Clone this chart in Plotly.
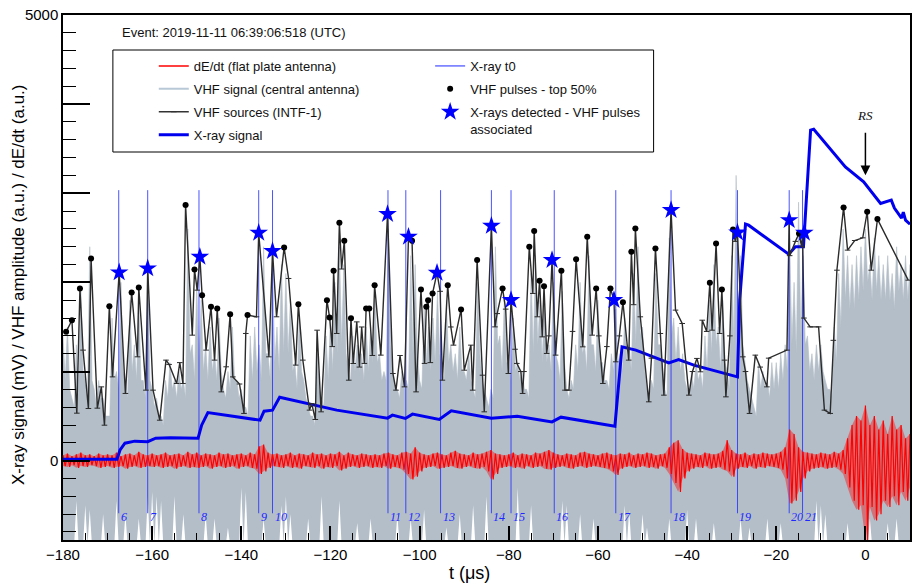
import plotly.graph_objects as go

# ---------------- data ----------------
# time grid (µs) for sampled envelopes
sig_t = list(range(-180, 11))

# VHF signal (central antenna): spike tops (at t), dense level (at t+0.5), low gaps (at t)
vhf_sig_hi = [
    1400, 1500, 700, 1300, 1900, 900, 2400, 800, 900, 700,
    500, 1600, 1000, 2000, 900, 1800, 1300, 1800, 900, 2100,
    800, 700, 500, 900, 1100, 900, 1000, 900, 2600, 1300,
    2000, 1800, 1300, 1500, 1200, 1600, 800, 1000, 1500, 900,
    800, 600, 1400, 1500, 1300, 2400, 1200, 2200, 1500, 2200,
    2100, 1800, 1100, 1600, 900, 600, 500, 1200, 700, 1400,
    1600, 2000, 2400, 2200, 1000, 1400, 1300, 1200, 1500, 1500,
    1800, 1200, 1000, 2600, 1000, 800, 1000, 900, 2300, 2200,
    900, 1700, 1500, 1600, 1900, 1000, 1800, 1300, 1200, 1500,
    1000, 1200, 800, 2000, 900, 700, 800, 2400, 1400, 1800,
    1100, 1600, 1100, 1000, 800, 2100, 2300, 1800, 1800, 1300,
    2000, 1100, 1900, 800, 900, 1300, 2000, 1300, 2300, 1300,
    1800, 1100, 900, 1200, 1700, 1200, 1600, 1300, 2100, 2400,
    1500, 800, 900, 2100, 1300, 800, 2500, 1600, 1500, 1200,
    800, 1000, 1100, 1000, 1400, 1800, 2200, 1500, 1800, 1000,
    2300, 3200, 2300, 1100, 800, 600, 1100, 1000, 900, 1100,
    1100, 1200, 1300, 2500, 2000, 2900, 2300, 1400, 1200, 1300,
    1300, 900, 800, 1500, 2100, 2600, 2300, 2200, 2300, 2400,
    2600, 2200, 2500, 2300, 2200, 2300, 2100, 2400, 2200, 2300, 2200,
]
vhf_sig_mid = [
    900, 800, 600, 700, 1000, 700, 900, 600, 700, 500,
    500, 900, 800, 1000, 700, 1000, 900, 900, 700, 900,
    600, 500, 400, 700, 800, 700, 800, 700, 1200, 900,
    1100, 1000, 900, 1000, 900, 1000, 700, 800, 900, 700,
    600, 500, 900, 1000, 900, 1200, 900, 1100, 1000, 1200,
    1200, 1000, 800, 1000, 700, 500, 400, 800, 600, 900,
    1000, 1200, 1300, 1200, 900, 1000, 1000, 900, 1000, 1100,
    1100, 900, 900, 1300, 800, 700, 800, 800, 1200, 1200,
    800, 1100, 1000, 1100, 1200, 900, 1100, 1000, 900, 1000,
    900, 900, 700, 1200, 800, 600, 700, 1300, 1000, 1100,
    900, 1000, 900, 800, 700, 1200, 1300, 1100, 1100, 1000,
    1200, 900, 1100, 700, 800, 1000, 1200, 1000, 1300, 1000,
    1100, 900, 800, 1000, 1100, 1000, 1100, 1000, 1300, 1400,
    1000, 700, 800, 1300, 1000, 700, 1400, 1100, 1000, 900,
    700, 800, 900, 800, 1000, 1200, 1300, 1000, 1100, 800,
    1300, 1500, 1300, 900, 700, 500, 800, 800, 700, 800,
    800, 900, 1000, 1300, 1200, 1400, 1300, 1000, 900, 1000,
    1000, 800, 700, 1100, 1500, 1800, 1700, 1700, 1800, 1900,
    2000, 1800, 1900, 1800, 1800, 1800, 1700, 1900, 1800, 1800, 1800,
]
vhf_sig_lo = [
    -950, -950, -950, -450, -950, -500, -550, -950, -950, -600,
    -950, -950, -450, -950, -600, -950, -950, -650, -950, -400,
    -350, -400, -450, -950, -950, -400, -950, -600, -950, -950,
    -950, -950, -600, -950, -650, -950, -950, -750, -950, -950,
    -300, -350, -950, -950, -950, -650, -950, -950, -950, -500,
    -400, -600, -950, -950, -950, -650, -950, -950, -400, -950,
    -950, -950, -450, -950, -950, -950, -700, -950, -950, -650,
    -950, -950, -950, -950, -950, -600, -950, -950, -650, -950,
    -950, -550, -950, -950, -950, -950, -750, -950, -950, -600,
    -950, -950, -500, -950, -950, -400, -950, -950, -950, -950,
    -950, -950, -300, -950, -950, -500, -950, -950, -950, -950,
    -950, -950, -450, -500, -950, -950, -600, -950, -950, -650,
    -950, -950, -950, -950, -950, -950, -500, -550, -950, -950,
    -600, -750, -950, -950, -950, -950, -650, -950, -950, -950,
    -550, -950, -650, -950, -950, -950, -700, -950, -950, -950,
    -950, -950, -650, -950, -750, -950, -950, -950, -650, -950,
    -950, -700, -950, -950, -950, -950, -950, -950, -950, -450,
    -500, -600, -950, -950, -950, -950, -700, -950, -950, -950,
    -950, -650, -950, -950, -950, -700, -950, -650, -950, -950, -950,
]

# dE/dt (flat plate antenna) upper / lower envelope
dedt_hi = [
    60, 80, 50, 70, 90, 60, 70, 50, 80, 60,
    70, 60, 90, 50, 70, 80, 60, 100, 70, 60,
    80, 60, 70, 90, 60, 70, 80, 60, 100, 70,
    90, 60, 80, 70, 60, 90, 70, 80, 60, 70,
    80, 60, 90, 70, 160, 180, 90, 70, 80, 60,
    70, 90, 60, 80, 70, 60, 90, 70, 80, 60,
    80, 70, 100, 60, 90, 70, 60, 80, 70, 60,
    70, 60, 80, 90, 70, 60, 90, 100, 80, 150,
    90, 70, 60, 80, 90, 70, 60, 90, 110, 80,
    70, 60, 90, 70, 80, 100, 120, 80, 70, 60,
    70, 90, 60, 80, 70, 60, 90, 80, 100, 120,
    90, 70, 60, 80, 70, 60, 90, 100, 80, 70,
    60, 80, 90, 70, 60, 80, 70, 90, 60, 80,
    70, 90, 80, 60, 70, 80, 150, 200, 230, 130,
    90, 80, 70, 60, 90, 80, 70, 80, 110, 230,
    120, 80, 70, 90, 60, 80, 70, 90, 80, 70,
    80, 100, 150, 350, 300, 150, 100, 90, 80, 70,
    90, 80, 70, 100, 80, 120, 250, 400, 500, 450,
    620, 400, 500, 350, 450, 300, 500, 350, 400, 250, 300,
]
dedt_lo = [
    -60, -70, -50, -80, -60, -70, -50, -60, -80, -70,
    -60, -80, -70, -60, -90, -70, -60, -80, -70, -60,
    -70, -60, -80, -70, -60, -90, -70, -60, -80, -70,
    -80, -70, -60, -90, -70, -60, -80, -70, -60, -90,
    -70, -60, -80, -90, -150, -120, -80, -60, -70, -80,
    -60, -80, -70, -90, -60, -70, -80, -60, -90, -70,
    -80, -60, -110, -90, -70, -60, -80, -70, -60, -80,
    -70, -80, -60, -90, -70, -80, -100, -150, -210, -180,
    -120, -80, -70, -60, -90, -80, -70, -60, -80, -90,
    -70, -60, -80, -90, -70, -120, -210, -150, -80, -70,
    -60, -80, -70, -90, -60, -80, -70, -60, -90, -100,
    -80, -70, -60, -80, -90, -70, -60, -80, -70, -60,
    -70, -80, -90, -120, -160, -90, -70, -60, -80, -70,
    -60, -80, -70, -90, -60, -80, -150, -250, -350, -200,
    -120, -90, -70, -80, -60, -90, -80, -70, -100, -120,
    -180, -90, -70, -80, -60, -90, -70, -80, -60, -70,
    -80, -100, -200, -480, -450, -350, -200, -120, -90, -80,
    -70, -90, -80, -70, -100, -150, -300, -450, -550, -500,
    -890, -520, -670, -600, -450, -520, -400, -500, -350, -450, -300,
]

# VHF sources (INTF-1)
src_t = [-179.3, -178.0, -176.9, -176.2, -175.5, -174.3, -173.7, -172.3, -171.4, -170.7,
         -169.6, -168.9, -167.4, -166.0, -164.6, -163.3, -163.0, -161.4, -161.0, -159.8,
         -158.3, -156.9, -156.2, -154.5, -153.8, -153.1, -152.5, -151.0, -150.5, -149.9,
         -149.3, -148.8, -147.9, -146.8, -146.0, -145.4, -144.5, -143.4, -142.5, -141.9,
         -140.4, -139.4, -139.0, -138.6, -136.6, -136.1, -133.8, -133.0, -132.1, -130.4,
         -129.4, -127.8, -127.2, -126.2, -124.7, -124.2, -123.4, -123.0, -122.1, -120.8,
         -120.2, -119.6, -119.3, -118.6, -118.0, -117.5, -116.9, -115.9, -115.4, -114.9,
         -114.1, -113.5, -113.0, -112.4, -112.0, -111.3, -110.6, -110.1, -108.7, -107.2,
         -106.0, -105.3, -104.4, -103.4, -102.5, -101.7, -100.8, -99.7, -98.9, -98.5,
         -98.1, -97.6, -97.1, -96.1, -95.4, -94.9, -93.7, -93.0, -92.4, -90.7,
         -90.0, -88.5, -88.1, -87.1, -85.9, -85.5, -83.9, -83.1, -82.6, -81.4,
         -80.7, -80.1, -79.5, -78.6, -78.2, -77.3, -76.9, -76.6, -75.4, -74.6,
         -74.3, -73.6, -73.1, -72.5, -72.1, -71.5, -71.0, -70.3, -69.5, -68.2,
         -67.4, -66.5, -65.7, -64.9, -63.4, -62.4, -61.3, -60.4, -59.8, -58.9,
         -58.0, -57.2, -56.4, -56.0, -55.2, -54.4, -53.1, -52.5, -52.0, -51.6,
         -50.5, -48.6, -48.0, -47.1, -46.0, -45.2, -43.6, -42.6, -41.1, -39.6,
         -38.8, -37.8, -37.0, -36.6, -35.6, -34.9, -34.4, -33.5, -32.7, -32.2,
         -31.6, -31.3, -30.4, -29.7, -29.2, -28.7, -27.5, -26.9, -26.0, -24.7,
         -23.6, -22.1, -21.7, -17.6, -17.1, -17.0, -15.7, -14.9, -14.3, -14.1,
         -13.8, -12.4, -10.5, -9.2, -7.9, -7.2, -6.4, -4.9, -4.0, -2.4,
         -0.6, 0.4, 1.3, 2.7, 9.6]
src_v = [1445, 1576, 533, 1932, 1240, 585, 2268, 589, 828, 398,
         1733, 940, 2112, 754, 1887, 1165, 1943, 791, 2157, 791,
         454, 1128, 1080, 866, 1100, 866, 2867, 1408, 2145, 1913,
         2287, 1857, 1240, 1726, 1128, 1707, 772, 1053, 1644, 940,
         860, 530, 1427, 1633, 1614, 2556, 1165, 2351, 1614, 2392,
         2044, 1072, 1756, 1128, 567, 640, 462, 1464, 548, 1801,
         1607, 1280, 2130, 1427, 2669, 2150, 2466, 903, 1599, 1090,
         1557, 1050, 1500, 1091, 1707, 1707, 1180, 1969, 1184, 2766,
         978, 791, 1180, 828, 2511, 2466, 772, 1921, 1091, 1726,
         1801, 1100, 1876, 2107, 1900, 903, 1969, 1500, 1296, 1697,
         1015, 1296, 791, 2250, 959, 548, 2634, 1501, 1650, 1932,
         1700, 978, 1801, 1250, 1091, 1000, 754, 1000, 2399, 1876,
         2578, 1614, 2018, 1389, 1958, 1203, 1400, 2250, 1184, 2130,
         791, 791, 1450, 2261, 1277, 2511, 1408, 1932, 1400, 866,
         1280, 1932, 1801, 1109, 1400, 1778, 1128, 2343, 1750, 2605,
         1614, 660, 1150, 2381, 1427, 735, 2811, 1689, 1539, 735,
         1000, 1147, 997, 1576, 1450, 1995, 1464, 2437, 1427, 1921,
         1128, 716, 1400, 2594, 2460, 2560, 1165, 1000, 530, 1184,
         1050, 828, 1150, 1240, 2698, 2300, 2460, 2549, 2400, 2556,
         1600, 1501, 1501, 567, 530, 1350, 2137, 2841, 2362, 2470,
         2500, 2792, 2137, 2710, 2025]

# VHF pulses - top 50%
top_t = [-179.3, -178.0, -176.2, -173.7, -169.6, -164.6, -163.0, -152.5, -150.5, -148.8,
         -146.8, -145.4, -142.5, -138.6, -130.4, -127.2, -120.8, -120.2, -119.3, -118.0,
         -116.9, -115.4, -112.0, -111.3, -110.1, -101.7, -99.7, -98.5, -98.1, -97.1,
         -93.7, -90.7, -87.1, -81.4, -75.4, -74.3, -73.1, -72.1, -68.2, -64.9,
         -62.4, -60.4, -57.2, -54.4, -52.5, -51.6, -47.1, -34.9, -33.5, -32.2,
         -29.7, -14.9, -4.9, 0.4, 2.7]
top_v = [1445, 1576, 1932, 2268, 1733, 1887, 1943, 2867, 2145, 1857,
         1726, 1707, 1644, 1633, 2392, 1756, 1801, 1607, 2130, 2669,
         2466, 1599, 1707, 1707, 1969, 2466, 1921, 1726, 1801, 1876,
         1969, 1697, 2250, 1932, 2399, 2578, 2018, 1958, 2130, 2261,
         2511, 1932, 1932, 1778, 2343, 2605, 2381, 1995, 2437, 1921,
         2594, 2549, 2841, 2792, 2710]

# X-rays detected - VHF pulses associated
star_t = [-167.4, -161.0, -149.3, -136.1, -133.0, -107.2, -102.5, -96.1,
          -83.9, -79.5, -70.3, -56.4, -43.6, -28.7, -17.1, -13.7]
star_v = [2112, 2157, 2287, 2556, 2351, 2766, 2511, 2107,
          2634, 1801, 2250, 1801, 2811, 2560, 2698, 2556]

# X-ray t0 markers
t0_t = [-167.5, -161.0, -149.5, -136.1, -133.0, -107.1, -103.1, -95.3,
        -83.9, -79.5, -69.8, -56.0, -43.6, -28.7, -17.1, -14.1]
t0_lbl = ["6", "7", "8", "9", "10", "11", "12", "13",
          "14", "15", "16", "17", "18", "19", "20", "21"]

# X-ray signal
xray_t = [-180, -167.9, -167.2, -166.1, -163.9, -161.0, -159.2, -155.9, -149.7, -148.9,
          -147.5, -142.3, -135.8, -134.9, -133.0, -131.4, -118.6, -107.2, -106.1, -103.2,
          -101.6, -95.6, -92.9, -83.9, -78.1, -70.3, -68.3, -56.2, -55.7, -54.6,
          -51.5, -44.1, -41.9, -38.5, -28.7, -28.2, -26.9, -26.2, -17.2, -15.7,
          -13.9, -13.0, -12.3, -11.6, -4.5, -0.4, 3.4, 5.8, 6.5, 8.1,
          8.5, 9.0, 10.0]
xray_v = [17, 17, 120, 196, 219, 213, 252, 258, 252, 398,
          539, 499, 454, 555, 567, 712, 567, 477, 511, 474,
          522, 462, 559, 477, 499, 435, 488, 387, 679, 1277,
          1240, 1097, 1135, 1072, 940, 1801, 2654, 2642, 2317, 2399,
          2399, 3147, 3708, 3719, 3296, 3128, 2886, 2923, 2833, 2721,
          2788, 2698, 2653]

# ---------------- styling constants ----------------
T0_TOP, T0_BOTTOM, T0_LABEL_Y = 3035, -590, -630
SIG_FLOOR = -950
GREY = "#b3bec8"
FONT = "Liberation Sans, Arial, sans-serif"
SERIF = "Liberation Serif, Times New Roman, serif"

fig = go.Figure()

# VHF signal: lower boundary (gaps) and upper boundary (spikes + dense level)
lx, ly, ux, uy = [], [], [], []
for t, lo, hi, mid in zip(sig_t, vhf_sig_lo, vhf_sig_hi, vhf_sig_mid):
    lx += [t, t + 0.5]
    ly += [lo, SIG_FLOOR]
    ux += [t, t + 0.5]
    uy += [hi, mid]
fig.add_trace(go.Scatter(x=lx, y=ly, mode="lines", line=dict(width=0, color=GREY),
                         showlegend=False, hoverinfo="skip"))
fig.add_trace(go.Scatter(x=ux, y=uy, mode="lines", line=dict(width=0.6, color=GREY),
                         fill="tonexty", fillcolor=GREY, showlegend=False, hoverinfo="skip"))

# X-ray t0 vertical lines
vx, vy = [], []
for t in t0_t:
    vx += [t, t, None]
    vy += [T0_BOTTOM, T0_TOP, None]
fig.add_trace(go.Scatter(x=vx, y=vy, mode="lines", line=dict(color="rgba(30,40,255,0.8)", width=1),
                         showlegend=False, hoverinfo="skip"))

# dE/dt: band between envelopes plus zig-zag trace
fig.add_trace(go.Scatter(x=sig_t, y=dedt_lo, mode="lines", line=dict(width=0, color="red"),
                         showlegend=False, hoverinfo="skip"))
fig.add_trace(go.Scatter(x=sig_t, y=dedt_hi, mode="lines", line=dict(width=0, color="red"),
                         fill="tonexty", fillcolor="rgba(255,0,0,0.4)",
                         showlegend=False, hoverinfo="skip"))
rx, ry = [], []
for t, hi, lo in zip(sig_t, dedt_hi, dedt_lo):
    rx += [t, t + 0.5]
    ry += [hi, lo]
fig.add_trace(go.Scatter(x=rx, y=ry, mode="lines", line=dict(color="#ff0000", width=1.2),
                         showlegend=False, hoverinfo="skip"))

# X-ray signal
fig.add_trace(go.Scatter(x=xray_t, y=xray_v, mode="lines", line=dict(color="#0000ee", width=3),
                         showlegend=False))

# VHF sources
fig.add_trace(go.Scatter(x=src_t, y=src_v, mode="lines+markers",
                         line=dict(color="#2b2b2b", width=1.4),
                         marker=dict(symbol="line-ew", size=4, line=dict(width=1, color="#2b2b2b")),
                         showlegend=False))
# top 50%
fig.add_trace(go.Scatter(x=top_t, y=top_v, mode="markers",
                         marker=dict(color="black", size=6), showlegend=False))
# stars
fig.add_trace(go.Scatter(x=star_t, y=star_v, mode="markers",
                         marker=dict(symbol="star", color="#0000ff", size=14, line=dict(width=0)),
                         showlegend=False))

# legend-only entries
leg1 = [
    dict(name="dE/dt (flat plate antenna)", mode="lines", line=dict(color="red", width=1.5)),
    dict(name="VHF signal (central antenna)", mode="lines", line=dict(color="#b8c8d6", width=2)),
    dict(name="VHF sources (INTF-1)", mode="lines+markers", line=dict(color="#333333", width=1.3),
         marker=dict(symbol="line-ew", size=4, line=dict(width=1, color="#333333"))),
    dict(name="X-ray signal", mode="lines", line=dict(color="#0000ee", width=3)),
]
for i, d in enumerate(leg1):
    fig.add_trace(go.Scatter(x=[None], y=[None], legend="legend", legendgroup="a%d" % i, **d))
leg2 = [
    dict(name="X-ray t0", mode="lines", line=dict(color="#1e28ff", width=1)),
    dict(name="VHF pulses - top 50%", mode="markers", marker=dict(color="black", size=6)),
    dict(name="X-rays detected - VHF pulses<br>associated", mode="markers",
         marker=dict(symbol="star", color="#0000ff", size=14)),
]
for i, d in enumerate(leg2):
    fig.add_trace(go.Scatter(x=[None], y=[None], legend="legend2", legendgroup="b%d" % i, **d))

W, H = 913, 588
ML, MR, MT, MB = 63, 1, 15, 48
PW, PH = W - ML - MR, H - MT - MB


def px(x):
    return (x - ML) / PW


def py(y):
    return (H - MB - y) / PH


annotations = []
for t, lab in zip(t0_t, t0_lbl):
    annotations.append(dict(x=t, y=T0_LABEL_Y, xref="x", yref="y", text="<i>%s</i>" % lab,
                            showarrow=False, xanchor="left", yanchor="middle", xshift=0,
                            font=dict(family=SERIF, size=12, color="#1e28ff")))
annotations += [
    dict(x=px(120), y=py(32), xref="paper", yref="paper", xanchor="left", yanchor="middle",
         text="Event: 2019-11-11 06:39:06:518 (UTC)", showarrow=False,
         font=dict(size=13, color="#111", family=FONT)),
    dict(x=0, y=3203, xref="x", yref="y", ax=0, ay=-44, axref="pixel", ayref="pixel",
         text="", showarrow=True, arrowhead=2, arrowsize=1.3, arrowwidth=1.5, arrowcolor="black"),
    dict(x=0, y=3877, xref="x", yref="y", text="<i>RS</i>", showarrow=False,
         font=dict(family=SERIF, size=13, color="#111")),
    dict(x=px(18), y=py(285), xref="paper", yref="paper", textangle=-90, showarrow=False,
         xanchor="center", yanchor="middle",
         text="X-ray signal (mV) / VHF amplitude (a.u.) / dE/dt (a.u.)",
         font=dict(size=17, color="black", family=FONT)),
    dict(x=px(470), y=py(573), xref="paper", yref="paper", showarrow=False,
         xanchor="center", yanchor="middle",
         text="t (\u03bcs)", font=dict(size=18, color="black", family=FONT)),
]

fig.update_layout(
    width=W, height=H,
    margin=dict(l=ML, r=MR, t=MT, b=MB),
    paper_bgcolor="white", plot_bgcolor="white",
    font=dict(family=FONT, color="black", size=15),
    showlegend=True,
    legend=dict(x=px(154), y=py(51), xanchor="left", yanchor="top", bgcolor="rgba(0,0,0,0)",
                font=dict(size=13, color="#111"), traceorder="grouped", tracegroupgap=3),
    legend2=dict(x=px(431), y=py(51), xanchor="left", yanchor="top", bgcolor="rgba(0,0,0,0)",
                 font=dict(size=13, color="#111"), traceorder="grouped", tracegroupgap=3,
                 valign="top"),
    shapes=[dict(type="rect", xref="paper", yref="paper", x0=px(113), x1=px(655),
                 y0=py(152), y1=py(50), line=dict(color="black", width=1), fillcolor="white",
                 layer="below")],
    annotations=annotations,
    xaxis=dict(range=[-180, 10], tickmode="linear", tick0=-180, dtick=20, ticks="inside",
               ticklen=14, tickwidth=1.5, tickcolor="black",
               minor=dict(dtick=5, ticklen=7, tickwidth=1.2, tickcolor="black", ticks="inside"),
               showline=True, linecolor="black", linewidth=1.5, mirror=True,
               showgrid=False, zeroline=False, tickfont=dict(size=15)),
    yaxis=dict(range=[-890, 5000], tickmode="array", tickvals=[0, 1000, 2000, 3000, 4000, 5000],
               ticktext=["0", "", "", "", "", "5000"], ticks="inside", ticklen=27, tickwidth=1.5,
               tickcolor="black",
               minor=dict(dtick=200, tick0=0, ticklen=13, tickwidth=1.2, tickcolor="black", ticks="inside"),
               showline=True, linecolor="black", linewidth=1.5, mirror=True,
               showgrid=False, zeroline=False, tickfont=dict(size=15)),
)

fig.write_html("out.html")
